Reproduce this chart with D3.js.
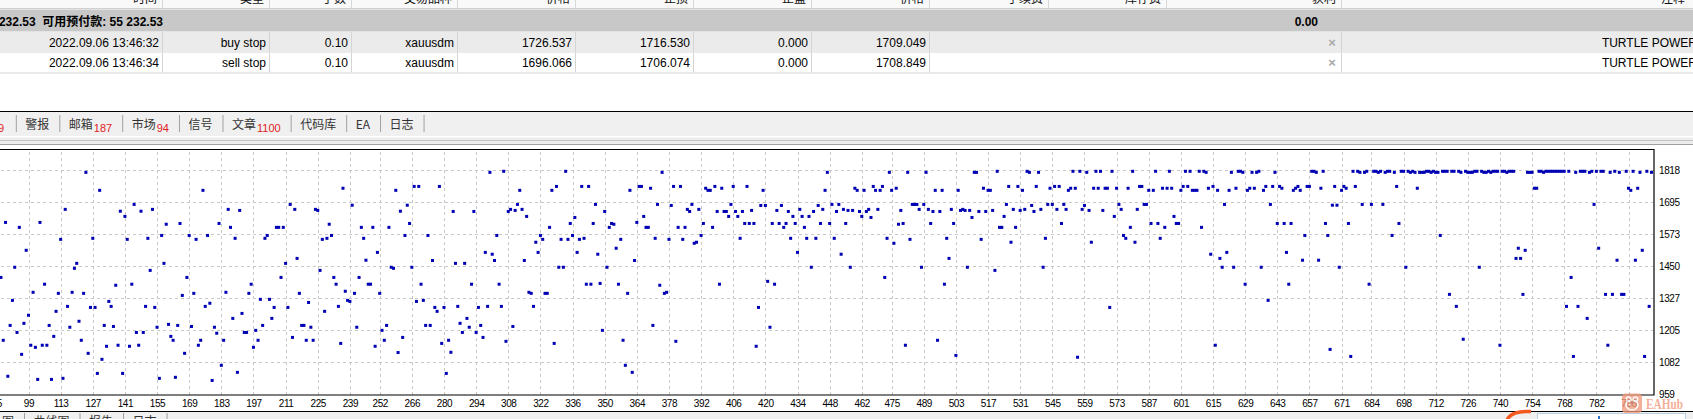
<!DOCTYPE html>
<html>
<head>
<meta charset="utf-8">
<script src="https://cdn.jsdelivr.net/npm/d3@7"></script>
<style>
html, body { margin: 0; padding: 0; background: #fff; overflow: hidden; }
svg { display: block; }
</style>
</head>
<body>
<svg id="chart" width="1693" height="419"></svg>
<script>
const headerLabels = ["时间", "类型", "手数", "交易品种", "价格", "止损", "止盈", "价格", "手续费", "库存费", "获利", "注释"];
const accountText = "232.53  可用预付款: 55 232.53";
const totalProfit = "0.00";
const orderTimes = ["2022.09.06 13:46:32", "2022.09.06 13:46:34"];
const orderTypes = ["buy stop", "sell stop"];
const orderLots = ["0.10", "0.10"];
const orderSymbols = ["xauusdm", "xauusdm"];
const openPrices = ["1726.537", "1696.066"];
const stopLosses = ["1716.530", "1706.074"];
const takeProfits = ["0.000", "0.000"];
const marketPrices = ["1709.049", "1708.849"];
const orderComments = ["TURTLE POWER", "TURTLE POWER"];

const terminalTabs = ["警报", "邮箱", "市场", "信号", "文章", "代码库", "EA", "日志"];
const terminalBadges = ["", "187", "94", "", "1100", "", "", ""];
const testerTabs = ["图", "曲线图", "报告", "日志"];

// tester graph: one price per trade number, starting at FIRST_TRADE
const FIRST_TRADE = 87;
const prices = [
  1406,1165,1617,1027,1222,1318,1445,1195,1598,1111,
  1230,1510,1261,1146,1349,1138,1015,1617,1146,1380,
  1146,1222,1015,1180,1276,1345,1552,1019,1667,1295,
  1215,1349,1441,1460,1238,1165,1345,1809,1115,1291,
  1556,1291,1038,1740,1092,1222,1142,1314,1295,1218,
  1376,1146,1660,1038,1640,1552,1142,1380,1686,1195,
  1146,1660,1195,1295,1556,1433,1667,1291,1215,1019,
  1567,1460,1610,1226,1180,1165,1023,1222,1613,1337,
  1115,1406,1567,1218,1345,1552,1146,1165,1740,1295,
  1567,1307,1011,1215,1192,1613,1069,1165,1349,1667,
  1598,1249,1556,1042,1663,1268,1195,1195,1345,1380,
  1138,1203,1165,1322,1222,1556,1567,1322,1249,1291,
  1598,1598,1406,1598,1460,1291,1686,1176,1667,1479,
  1345,1222,1222,1165,1310,1215,1165,1667,1663,1433,
  1552,1276,1556,1610,1567,1406,1380,1295,1153,1748,
  1353,1318,1314,1683,1345,1215,1406,1598,1556,1472,
  1380,1380,1598,1142,1502,1345,1203,1165,1222,1598,
  1445,1441,1740,1118,1660,1176,1567,1683,1613,1445,
  1755,1314,1755,1380,
  1318,1222,1567,1222,1471,1291,1276,1755,1153,1291,
  1038,1165,1119,1659,1460,1295,1230,1195,1460,1249,
  1215,1380,1659,1195,1291,1222,1176,1502,1295,1809,
  1495,1471,1567,1380,1295,1813,1161,1659,1667,1218,
  1663,1686,1740,1667,1471,1640,
  1349,1345,1295,1541,1502,1567,1552,1345,1345,
  1598,1740,1153,1755,1445,1552,1445,1813,1552,1613,
  1567,1636,1502,1552,1755,1556,1380,1755,1380,1613,
  1686,1495,1383,1203,1659,1445,1598,1613,1610,1518,
  1380,1552,1165,1069,1345,1740,1042,1471,1617,1755,
  1755,1640,1598,1598,1748,1222,1556,1686,1376,1809,
  1345,1349,1552,1682,1755,1161,1598,1755,1552,1598,
  1667,1659,1686,1537,1541,1667,
  1567,1613,1748,1740,1740,1598,1755,1659,1380,1748,
  1659,1659,1640,1686,1755,1659,1640,1556,1659,1613,
  1755,1613,1663,1613,1142,1291,1682,1740,1682,1391,
  1215,1613,1380,1663,1613,1682,1598,1613,1659,1556,
  1640,1613,1502,1667,1640,1598,1556,1640,1445,1659,
  1556,1682,1613,1667,1740,1809,1613,1686,1556,1659,
  1686,1495,1667,1613,1663,1445,1663,1748,1740,1659,
  1640,1740,1659,1667,1636,1755,1740,1667,1740,1755,
  1406,1556,1809,1740,1537,1748,1610,1663,1613,1146,
  1809,1552,1686,1686,1686,1667,1445,1686,1809,1667,
  1613,1659,1740,1165,1659,1740,1380,1556,1479,1667,
  1613,1107,1740,1663,1667,1663,1445,1663,1636,1809,
  1809,1659,
  1552,1748,1659,1740,1740,1663,1433,1813,1598,1598,
  1640,1686,1755,1541,1667,1598,1755,1663,1740,1667,
  1813,1809,1682,1659,1755,1809,1667,1445,1556,1686,
  1748,1686,1755,1667,1755,1613,1686,1667,1740,1748,
  1813,1748,1100,1813,1667,1682,1809,1663,1541,1748,
  1813,1748,1813,1663,1748,1748,1291,1813,1640,1748,
  1686,1667,1567,1556,1748,1598,1813,1541,1667,1755,
  1755,1686,1686,1740,1613,1740,1813,1613,1556,1748,
  1598,1748,1813,1748,1640,1613,1613,1740,1755,1813,
  1755,1813,1740,1740,1740,1813,1598,1813,1809,1748,
  1495,1755,1146,1740,1479,1445,1686,1502,1740,1809,
  1445,1748,1813,1813,1809,1380,1740,1748,1809,1748,
  1809,1813,
  1445,1740,1755,1318,1686,1755,1809,1613,1755,1748,
  1613,1502,1380,1613,1740,1748,1755,1740,1472,1567,
  1755,1755,1813,1813,1809,1472,1748,1813,1613,1567,
  1130,1683,1755,1683,1445,1740,1755,1748,1613,1103,
  1813,1755,1813,1809,1686,1809,1813,1380,1686,1813,
  1813,1809,1813,1686,1809,1813,1813,1567,1809,1755,
  1613,1813,1813,1445,1813,1809,1813,1809,1748,1809,
  1809,1809,1813,1813,1809,1813,1809,1809,1567,1813,
  1813,1813,1341,1813,1813,1295,1813,1809,1169,1813,
  1809,1809,1809,1813,1813,1445,1813,1809,1809,1813,
  1809,1813,1813,1813,1146,1813,1813,1809,1813,1813,
  1813,1479,1518,1479,1341,1510,1809,1809,1809,1748,
  1748,1813,1813,1809,1813,1813,1813,1813,1813,1813,
  1813,1813,1813,1295,1813,1406,1103,1809,1295,1813,
  1813,1813,1249,1809,1813,1686,1813,1518,1813,1813,
  1341,1146,1809,1341,1813,1472,1809,1341,1341,1813,
  1748,1740,1813,1472,1748,1809,1510,1103,1813,1295,
  1809
];
const xTickLabels = [85, 99, 113, 127, 141, 155, 169, 183, 197, 211, 225, 239, 252, 266, 280, 294,
  308, 322, 336, 350, 364, 378, 392, 406, 420, 434, 448, 462, 475, 489, 503, 517, 531, 545,
  559, 573, 587, 601, 615, 629, 643, 657, 671, 684, 698, 712, 726, 740, 754, 768, 782, 796];
const yTickLabels = [959, 1082, 1205, 1327, 1450, 1573, 1695, 1818];

// ---------- layout ----------
const W = 1693, H = 419;
const SANS = "'Liberation Sans', Arial, 'Noto Sans CJK SC', sans-serif";
const CJK = "'Noto Sans CJK SC', 'Liberation Sans', sans-serif";
const colRight = [162, 269, 351, 457, 575, 693, 811, 929, 1048, 1166, 1341, 1690];
const rowSep = "#d4d4d4";

const svg = d3.select("#chart");

// ---------- order table ----------
const table = svg.append("g");
table.append("rect").attr("x", 0).attr("y", 0).attr("width", W).attr("height", 8.5).attr("fill", "#f9f9f9");
table.selectAll("line.hsep").data(colRight.slice(0, 11)).enter().append("line")
    .attr("x1", d => d + 0.5).attr("x2", d => d + 0.5).attr("y1", 0).attr("y2", 8)
    .attr("stroke", "#d8d8d8");
table.selectAll("text.head").data(headerLabels).enter().append("text")
    .attr("x", (d, i) => colRight[i] - 5).attr("y", 3)
    .attr("text-anchor", "end").attr("font-family", CJK).attr("font-size", 12)
    .attr("fill", "#111").text(d => d);
table.append("line").attr("x1", 0).attr("x2", W).attr("y1", 8.5).attr("y2", 8.5).attr("stroke", "#d0d0d0");

// balance row
table.append("rect").attr("x", 0).attr("y", 9.5).attr("width", W).attr("height", 22).attr("fill", "#c8c8c8");
table.append("text").attr("x", 163).attr("y", 25.5).attr("text-anchor", "end")
    .attr("font-family", SANS).attr("font-size", 12).attr("font-weight", "bold")
    .attr("fill", "#000").attr("xml:space", "preserve").text(accountText);
table.append("text").attr("x", 1318).attr("y", 25.5).attr("text-anchor", "end")
    .attr("font-family", SANS).attr("font-size", 12).attr("font-weight", "bold")
    .attr("fill", "#000").text(totalProfit);

// order rows
const rowTop = [32, 52.5];
const rows = orderTimes.map((t, i) => ({
  cells: [t, orderTypes[i], orderLots[i], orderSymbols[i], openPrices[i], stopLosses[i], takeProfits[i], marketPrices[i]],
  comment: orderComments[i], top: rowTop[i], fill: i === 0 ? "#ebebeb" : "#ffffff"
}));
const rowG = table.selectAll("g.row").data(rows).enter().append("g");
rowG.append("rect").attr("x", 0).attr("y", d => d.top).attr("width", W).attr("height", 20).attr("fill", d => d.fill);
rowG.append("line").attr("x1", 0).attr("x2", W).attr("y1", d => d.top + 20.5).attr("y2", d => d.top + 20.5).attr("stroke", rowSep);
rowG.each(function(d) {
  const g = d3.select(this);
  g.selectAll("text.cell").data(d.cells).enter().append("text")
      .attr("x", (c, j) => colRight[j] - 3).attr("y", d.top + 14.5)
      .attr("text-anchor", "end").attr("font-family", SANS).attr("font-size", 12)
      .attr("fill", "#000").text(c => c);
  g.selectAll("line.vsep").data([162, 269, 351, 457, 575, 693, 811, 929, 1341]).enter().append("line")
      .attr("x1", c => c + 0.5).attr("x2", c => c + 0.5).attr("y1", d.top).attr("y2", d.top + 20)
      .attr("stroke", rowSep);
  g.append("text").attr("x", 1332).attr("y", d.top + 14.5).attr("text-anchor", "middle")
      .attr("font-family", SANS).attr("font-size", 13).attr("font-weight", "bold")
      .attr("fill", "#a8a8a8").text("×");
  g.append("text").attr("x", 1697).attr("y", d.top + 14.5).attr("text-anchor", "end")
      .attr("font-family", SANS).attr("font-size", 12).attr("fill", "#000").text(d.comment);
});

// ---------- terminal tab strip ----------
svg.append("line").attr("x1", 0).attr("x2", W).attr("y1", 111.5).attr("y2", 111.5).attr("stroke", "#000");
svg.append("rect").attr("x", 0).attr("y", 112).attr("width", W).attr("height", 24).attr("fill", "#f0f0f0");
svg.append("rect").attr("x", 0).attr("y", 137.5).attr("width", W).attr("height", 7).attr("fill", "#ececec");
svg.append("line").attr("x1", 0).attr("x2", W).attr("y1", 140.5).attr("y2", 140.5).attr("stroke", "#c4c4c4");
svg.append("line").attr("x1", 0).attr("x2", W).attr("y1", 144.5).attr("y2", 144.5).attr("stroke", "#a0a0a0");

function drawTabs(labels, badges, startX, sepX, y, y1, y2) {
  const g = svg.append("g");
  let cursor = startX;
  if (sepX !== null) {
    g.append("line").attr("x1", sepX + 0.5).attr("x2", sepX + 0.5).attr("y1", y1).attr("y2", y2).attr("stroke", "#a0a0a0");
  }
  labels.forEach((lab, i) => {
    const t = g.append("text").attr("x", cursor + 9.5).attr("y", y)
        .attr("font-family", CJK).attr("font-size", 12).attr("fill", "#333").text(lab);
    let end = cursor + 9.5 + t.node().getComputedTextLength();
    if (badges && badges[i]) {
      const b = g.append("text").attr("x", end + 1).attr("y", y + 3)
          .attr("font-family", SANS).attr("font-size", 11).attr("fill", "#e0201c").text(badges[i]);
      end += 1 + b.node().getComputedTextLength();
    }
    cursor = end + 10;
    g.append("line").attr("x1", cursor + 0.5).attr("x2", cursor + 0.5).attr("y1", y1).attr("y2", y2).attr("stroke", "#a0a0a0");
  });
}
svg.append("text").attr("x", 4).attr("y", 132).attr("text-anchor", "end")
    .attr("font-family", SANS).attr("font-size", 11).attr("fill", "#e0201c").text("9");
drawTabs(terminalTabs, terminalBadges, 15.8, 15.8, 128.5, 115, 132);

// ---------- tester graph ----------
const plot = { left: 0, right: 1654, top: 149.5, bottom: 395 };
const x = d3.scaleLinear().domain([99, 796]).range([28.5, 1628.5]);
const y = d3.scaleLinear().domain([959, 1818]).range([394, 170]);

const chart = svg.append("g");
chart.append("rect").attr("x", plot.left).attr("y", plot.top)
    .attr("width", plot.right - plot.left).attr("height", plot.bottom - plot.top).attr("fill", "#fff");

// dashed grid through the axes
const gridX = chart.append("g").attr("transform", `translate(0,${plot.bottom})`)
    .call(d3.axisBottom(x).tickValues(xTickLabels).tickSize(-(plot.bottom - plot.top)).tickFormat(""));
const gridY = chart.append("g").attr("transform", `translate(${plot.right},0)`)
    .call(d3.axisRight(y).tickValues(yTickLabels.filter(v => v !== 959)).tickSize(-(plot.right - plot.left)).tickFormat(""));
[gridX, gridY].forEach(g => {
  g.select(".domain").remove();
  g.selectAll(".tick line").attr("stroke", "#c8c8c8").attr("stroke-dasharray", "3,3").attr("shape-rendering", "crispEdges");
});

// trades
const points = prices.map((p, k) => ({ trade: FIRST_TRADE + k, price: p }));
chart.append("g").selectAll("rect").data(points).enter().append("rect")
    .attr("x", d => x(d.trade) - 1.5).attr("y", d => y(d.price) - 1.5)
    .attr("width", 3).attr("height", 3).attr("fill", "#0000b4");

// frame
chart.append("path")
    .attr("d", `M${plot.left},${plot.top}H${plot.right}V${plot.bottom}H${plot.left}`)
    .attr("fill", "none").attr("stroke", "#000").attr("stroke-width", 1.2);

// axis labels
const xAxis = chart.append("g").attr("transform", `translate(0,${plot.bottom})`)
    .call(d3.axisBottom(x).tickValues(xTickLabels).tickSize(0).tickPadding(5).tickFormat(d3.format("d")));
const yAxis = chart.append("g").attr("transform", `translate(${plot.right},0)`)
    .call(d3.axisRight(y).tickValues(yTickLabels).tickSize(0).tickPadding(5).tickFormat(d3.format("d")));
[xAxis, yAxis].forEach(g => {
  g.select(".domain").remove();
  g.selectAll("text").attr("font-family", SANS).attr("font-size", 10)
      .attr("letter-spacing", "-0.4px").attr("fill", "#000");
});

// ---------- tester tab strip ----------
svg.append("line").attr("x1", 0).attr("x2", W).attr("y1", 411.5).attr("y2", 411.5).attr("stroke", "#000");
svg.append("rect").attr("x", 0).attr("y", 412).attr("width", W).attr("height", 7).attr("fill", "#f0f0f0");
drawTabs(testerTabs, null, -7.5, null, 426, 413, 419);

// popup corner and logo pieces at the bottom right
svg.append("rect").attr("x", 1537.5).attr("y", 413.5).attr("width", 148).attr("height", 12)
    .attr("fill", "#fff").attr("stroke", "#bcd0e4");
svg.append("rect").attr("x", 1598).attr("y", 416).attr("width", 2).attr("height", 3).attr("fill", "#2a6fc0");
svg.append("path").attr("d", "M1507,420 Q1511,410.5 1531,411.5")
    .attr("fill", "none").attr("stroke", "#f25a1f").attr("stroke-width", 3.5);

// watermark
const wm = svg.append("g").attr("opacity", 0.78);
wm.append("rect").attr("x", 1622).attr("y", 393.5).attr("width", 20).attr("height", 19.5).attr("rx", 4).attr("fill", "#f29a7c");
wm.append("circle").attr("cx", 1628.5).attr("cy", 399).attr("r", 2.2).attr("fill", "none").attr("stroke", "#fff").attr("stroke-width", 1.3);
wm.append("circle").attr("cx", 1635.5).attr("cy", 399).attr("r", 2.2).attr("fill", "none").attr("stroke", "#fff").attr("stroke-width", 1.3);
wm.append("ellipse").attr("cx", 1632).attr("cy", 405).attr("rx", 6).attr("ry", 5).attr("fill", "none").attr("stroke", "#fff").attr("stroke-width", 1.5);
wm.append("circle").attr("cx", 1630).attr("cy", 404.5).attr("r", 0.9).attr("fill", "#fff");
wm.append("text").attr("x", 1646).attr("y", 408.5)
    .attr("font-family", "'Liberation Serif', 'DejaVu Serif', serif").attr("font-size", 15).attr("font-weight", "bold")
    .attr("textLength", 37).attr("lengthAdjust", "spacingAndGlyphs")
    .attr("fill", "#f29a7c").text("EAHub");
</script>
</body>
</html>
